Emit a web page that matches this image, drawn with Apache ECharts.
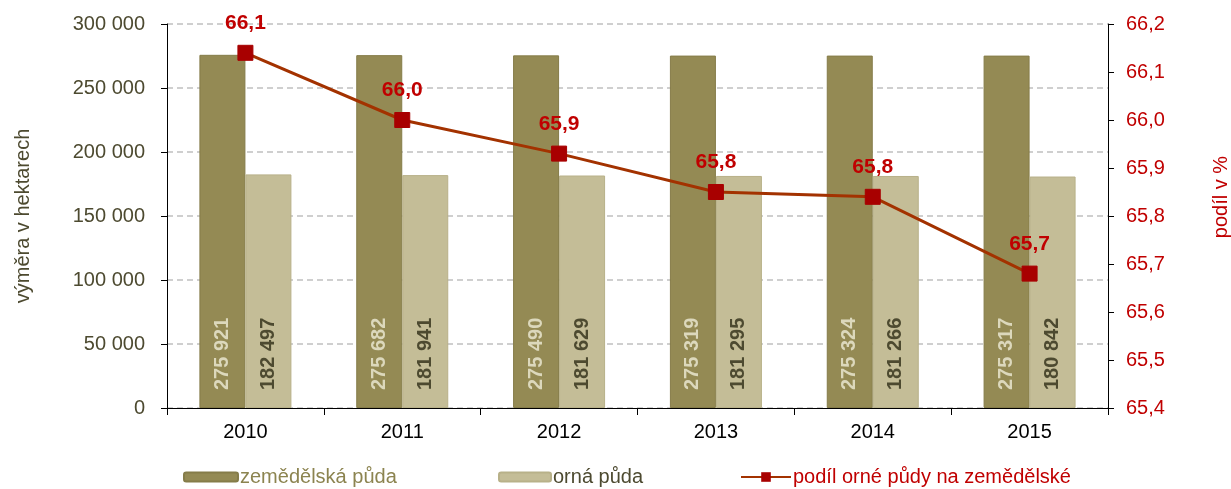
<!DOCTYPE html>
<html>
<head>
<meta charset="utf-8">
<script src="https://cdn.jsdelivr.net/npm/echarts@6/dist/echarts.min.js"></script>
<style>
  html, body { margin: 0; padding: 0; background: #fff; }
  #chart { width: 1231px; height: 489px; }
</style>
</head>
<body>
<div id="chart"></div>
<script>
  // data
  var years = ['2010', '2011', '2012', '2013', '2014', '2015'];
  var zemedelska = [275921, 275682, 275490, 275319, 275324, 275317];
  var orna = [182497, 181941, 181629, 181295, 181266, 180842];
  var podil = [66.14, 66.00, 65.93, 65.85, 65.84, 65.68];

  function thousands(v) {
    return String(v).replace(/\B(?=(\d{3})+(?!\d))/g, ' ');
  }
  function comma(v, d) {
    return v.toFixed(d).replace('.', ',');
  }

  var chart = echarts.init(document.getElementById('chart'));
  var font = 'Liberation Sans, Arial, sans-serif';

  // one legend per item, so each can sit where it is in the picture
  function legendItem(name, color, left, w, h) {
    return {
      data: [name],
      left: left,
      top: 462,
      itemWidth: w,
      itemHeight: h,
      itemGap: 0,
      textStyle: { fontSize: 20, fontFamily: font, color: color, padding: [0, 0, 0, -3] }
    };
  }

  var option = {
    animation: false,
    textStyle: { fontFamily: font },
    grid: { left: 167, right: 123, top: 24, bottom: 81, outerBoundsMode: 'none' },
    legend: [
      legendItem('zemědělská půda', '#8c8450', 178, 54, 9),
      legendItem('orná půda', '#4d4a30', 493, 52, 9),
      legendItem('podíl orné půdy na zemědělské', '#c00000', 735, 50, 12)
    ],
    xAxis: {
      type: 'category',
      data: years,
      axisLine: { lineStyle: { color: '#000', width: 1 } },
      axisTick: { show: true, length: 7, lineStyle: { color: '#000' } },
      axisLabel: { color: '#000', fontSize: 20, margin: 14 }
    },
    yAxis: [
      {
        type: 'value',
        min: 0,
        max: 300000,
        interval: 50000,
        name: 'výměra v hektarech',
        nameLocation: 'middle',
        nameRotate: 90,
        nameGap: 134,
        nameTextStyle: { color: '#4d4a30', fontSize: 20 },
        axisLine: { show: true, lineStyle: { color: '#000' } },
        axisTick: { show: true, length: 6, lineStyle: { color: '#000' } },
        axisLabel: { color: '#4d4a30', fontSize: 20, margin: 22, formatter: thousands },
        splitLine: { lineStyle: { color: '#c0c0c0', type: [6, 4], width: 1.5 } }
      },
      {
        type: 'value',
        min: 65.4,
        max: 66.2,
        interval: 0.1,
        name: 'podíl v %',
        nameLocation: 'middle',
        nameRotate: 90,
        nameGap: 103,
        nameTextStyle: { color: '#c00000', fontSize: 20, padding: [0, 0, 0, 38] },
        axisLine: { show: true, lineStyle: { color: '#000' } },
        axisTick: { show: true, length: 6, lineStyle: { color: '#000' } },
        axisLabel: { color: '#c00000', fontSize: 20, margin: 18, formatter: function (v) { return comma(v, 1); } },
        splitLine: { show: false }
      }
    ],
    series: [
      {
        name: 'zemědělská půda',
        type: 'bar',
        data: zemedelska,
        barWidth: 46,
        barGap: '0%',
        itemStyle: { color: '#948a54', borderColor: '#857c49', borderWidth: 1 },
        label: {
          show: true,
          position: 'insideBottom',
          rotate: 90,
          align: 'left',
          verticalAlign: 'middle',
          distance: 18,
          color: '#dcd8bc',
          fontSize: 20,
          fontWeight: 'bold',
          formatter: function (p) { return thousands(p.value); }
        }
      },
      {
        name: 'orná půda',
        type: 'bar',
        data: orna,
        barWidth: 46,
        barGap: '0%',
        itemStyle: { color: '#c4bd97', borderColor: '#b8b189', borderWidth: 1 },
        label: {
          show: true,
          position: 'insideBottom',
          rotate: 90,
          align: 'left',
          verticalAlign: 'middle',
          distance: 18,
          color: '#4d4a30',
          fontSize: 20,
          fontWeight: 'bold',
          formatter: function (p) { return thousands(p.value); }
        }
      },
      {
        name: 'podíl orné půdy na zemědělské',
        type: 'line',
        yAxisIndex: 1,
        data: podil,
        symbol: 'rect',
        symbolSize: 15,
        lineStyle: { color: '#a33200', width: 3 },
        itemStyle: { color: '#a80000', borderColor: '#a80000' },
        label: {
          show: true,
          position: 'top',
          distance: 11,
          color: '#c00000',
          fontSize: 21,
          fontWeight: 'bold',
          formatter: function (p) { return comma(p.value, 1); }
        },
        z: 5
      }
    ]
  };

  chart.setOption(option);
</script>
</body>
</html>
